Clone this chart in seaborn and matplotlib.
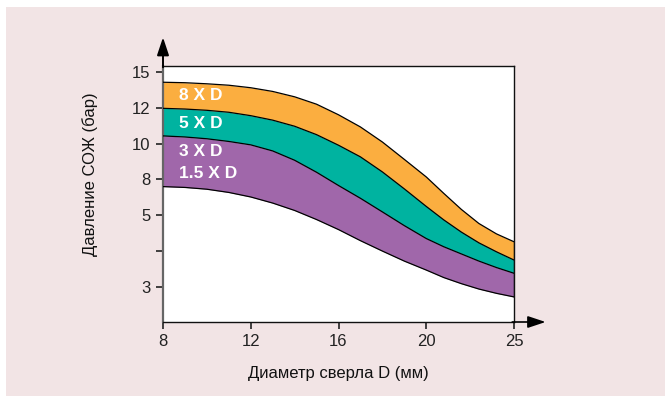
import numpy as np
import pandas as pd
import matplotlib.pyplot as plt
import matplotlib.patches as mpatches
import seaborn as sns

# =============================================================================
# data (pressure in bar vs drill diameter in mm)
# =============================================================================
diameter = [8, 9, 10, 11, 12, 13, 14, 15, 16, 17, 18, 19, 20, 21, 22, 23, 24, 25]

# lower edge of the 1.5/3 x D band
p_low = [7.40, 7.33, 7.18, 6.91, 6.53, 6.02, 5.40, 4.88, 4.60, 4.29, 4.00, 3.72,
         3.47, 3.26, 3.09, 2.94, 2.82, 2.72]
# top of the 1.5/3 x D band = bottom of 5 x D
p_3xd = [10.43, 10.37, 10.27, 10.12, 9.93, 9.59, 9.07, 8.40, 7.49, 6.42, 5.28, 4.71,
         4.35, 4.12, 3.92, 3.72, 3.54, 3.38]
# top of 5 x D = bottom of 8 x D
p_5xd = [11.97, 11.93, 11.86, 11.75, 11.56, 11.31, 10.97, 10.50, 9.91, 9.26, 8.42, 7.21,
         5.74, 4.87, 4.53, 4.23, 3.98, 3.75]
# top of 8 x D
p_8xd = [14.14, 14.10, 14.01, 13.89, 13.68, 13.37, 12.92, 12.30, 11.61, 10.93, 10.09, 9.12,
         8.14, 6.83, 5.49, 4.77, 4.48, 4.26]

band_labels = ["8 X D", "5 X D", "3 X D", "1.5 X D"]
band_colors = ["#fbae40", "#00b3a0", "#a067aa"]

x_ticks = [8, 12, 16, 20, 25]
y_ticks = [3, 4, 5, 8, 10, 12, 15]
y_tick_labels = ["3", "", "5", "8", "10", "12", "15"]

# =============================================================================
# axis scales: tick values are drawn equally spaced
# =============================================================================
x_anchor = np.array([8, 12, 16, 20, 25])
x_pos = np.arange(len(x_anchor), dtype=float)
y_anchor = np.array([2, 3, 4, 5, 8, 10, 12, 15, 18])
y_pos = np.arange(len(y_anchor), dtype=float) - 1


def x_fwd(v):
    return np.interp(v, x_anchor, x_pos)


def x_inv(p):
    return np.interp(p, x_pos, x_anchor)


def y_fwd(v):
    return np.interp(v, y_anchor, y_pos)


def y_inv(p):
    return np.interp(p, y_pos, y_anchor)


# =============================================================================
# plotting
# =============================================================================
sns.set_theme(style="ticks")
plt.rcParams['font.family'] = ['Liberation Sans', 'DejaVu Sans']

fig = plt.figure(figsize=(6.65, 3.96), dpi=100, facecolor="white")
fig.patches.append(mpatches.Rectangle((6 / 665, 0), 1, 1 - 7 / 396,
                                      transform=fig.transFigure,
                                      facecolor="#f2e4e5", edgecolor="none", zorder=-10))

ax = fig.add_axes([163 / 665, 1 - 322 / 396, 351 / 665, 256 / 396])
ax.set_facecolor("white")
ax.set_xscale("function", functions=(x_fwd, x_inv))
ax.set_yscale("function", functions=(y_fwd, y_inv))

df = pd.DataFrame({"D": diameter, "low": p_low, "3xd": p_3xd, "5xd": p_5xd, "8xd": p_8xd})

ax.fill_between(df["D"], df["5xd"], df["8xd"], color=band_colors[0], lw=0, zorder=2)
ax.fill_between(df["D"], df["3xd"], df["5xd"], color=band_colors[1], lw=0, zorder=2)
ax.fill_between(df["D"], df["low"], df["3xd"], color=band_colors[2], lw=0, zorder=2)

for col in ["low", "3xd", "5xd", "8xd"]:
    sns.lineplot(data=df, x="D", y=col, color="black", lw=0.9, ax=ax, zorder=3)
# closing edge at the right side
ax.plot([25, 25], [p_low[-1], p_8xd[-1]], color="black", lw=0.9, zorder=3)

ax.set_xlim(8, 25)
ax.set_ylim(2.02, 15.5)
ax.set_xticks(x_ticks)
ax.set_xticklabels([str(t) for t in x_ticks])
ax.set_yticks(y_ticks)
ax.set_yticklabels(y_tick_labels)
ax.minorticks_off()
ax.tick_params(axis="both", direction="out", length=5, width=1.2, color="#222222",
               labelsize=12, labelcolor="#222222", pad=4)

for side in ["top", "right", "bottom"]:
    ax.spines[side].set_visible(True)
    ax.spines[side].set_color("#111111")
    ax.spines[side].set_linewidth(1.0)
ax.spines["left"].set_color("#666666")
ax.spines["left"].set_linewidth(1.6)

ax.set_xlabel("Диаметр сверла D (мм)", fontsize=12, color="#111111", labelpad=12)
ax.set_ylabel("Давление СОЖ (бар)", fontsize=12, color="#111111")
ax.yaxis.set_label_coords(-0.185, 0.578)

# band labels
label_y = [96, 123, 151, 173]
for txt, py in zip(band_labels, label_y):
    ax.text(16 / 351, (322 - py) / 256, txt, transform=ax.transAxes, color="white",
            fontsize=12.5, fontweight="bold", va="center", ha="left", zorder=4)

# axis arrows
ax.annotate("", xy=(0, 1.112), xytext=(0, 0.995), xycoords="axes fraction",
            arrowprops=dict(arrowstyle="-|>,head_length=0.9,head_width=0.3",
                            color="black", lw=1.4, shrinkA=0, shrinkB=0),
            annotation_clip=False)
ax.annotate("", xy=(1.09, 0), xytext=(0.995, 0), xycoords="axes fraction",
            arrowprops=dict(arrowstyle="-|>,head_length=0.9,head_width=0.3",
                            color="black", lw=1.2, shrinkA=0, shrinkB=0),
            annotation_clip=False)

fig.savefig("out.png", dpi=100, facecolor=fig.get_facecolor())
